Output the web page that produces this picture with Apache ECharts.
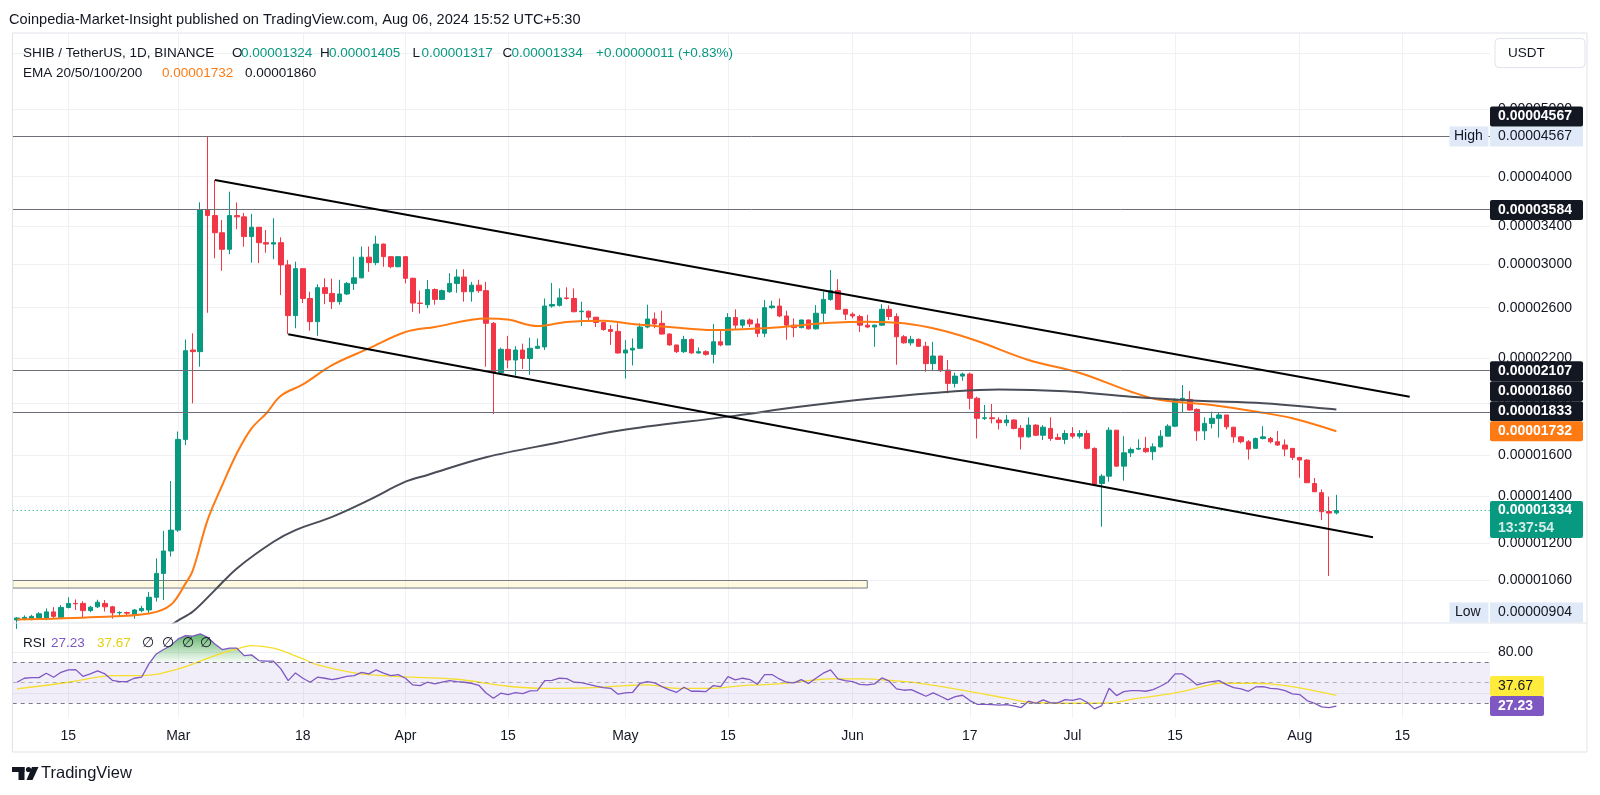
<!DOCTYPE html>
<html>
<head>
<meta charset="utf-8">
<title>SHIB / TetherUS 1D</title>
<script src="https://cdn.jsdelivr.net/npm/echarts@6.0.0/dist/echarts.min.js"></script>
<style>
  html, body { margin: 0; padding: 0; background: #fff; }
  #chart { width: 1600px; height: 795px; }
</style>
</head>
<body>
<div id="chart"></div>
<script>
// prices are in units of 0.00001 USDT
const UNIT = 1e-5;
const firstDay = '02-08';

// daily candles from Feb 8 2024: [open, high, low, close]
const ohlc = [
  [0.931,0.940,0.904,0.937],[0.933,0.945,0.930,0.939],[0.934,0.947,0.930,0.942],[0.937,0.955,0.933,0.950],
  [0.935,0.967,0.930,0.956],[0.956,0.971,0.935,0.942],[0.939,0.978,0.935,0.970],[0.970,1.003,0.967,0.983],
  [0.983,0.996,0.962,0.982],[0.983,0.990,0.940,0.960],[0.960,0.975,0.955,0.971],[0.972,0.995,0.968,0.987],
  [0.983,0.994,0.957,0.972],[0.972,0.975,0.935,0.953],[0.953,0.958,0.940,0.954],[0.954,0.957,0.945,0.952],
  [0.947,0.965,0.935,0.962],[0.960,0.975,0.955,0.967],[0.962,1.021,0.951,1.003],[1.003,1.140,0.989,1.085],
  [1.085,1.248,0.994,1.168],[1.168,1.470,1.147,1.251],
  // Mar
  [1.251,1.730,1.244,1.686],[1.686,2.342,1.655,2.257],[2.262,2.390,1.898,2.250],[2.250,3.677,2.141,3.584],
  [3.584,4.567,2.557,3.520],[3.520,3.957,3.059,3.327],[3.327,3.469,2.936,3.150],[3.150,3.808,3.100,3.520],
  [3.520,3.675,3.365,3.505],[3.505,3.550,3.177,3.285],[3.285,3.540,3.015,3.387],[3.387,3.390,3.010,3.220],
  [3.220,3.357,3.115,3.205],[3.205,3.490,3.050,3.220],[3.220,3.277,2.710,2.993],[2.993,3.042,2.383,2.533],
  [2.533,3.025,2.430,2.956],[2.956,2.960,2.640,2.680],[2.680,2.740,2.410,2.483],[2.483,2.808,2.370,2.777],
  [2.777,2.864,2.630,2.725],[2.725,2.860,2.589,2.652],[2.652,2.850,2.626,2.720],[2.720,2.830,2.710,2.816],
  [2.816,3.075,2.756,2.868],[2.868,3.180,2.864,3.070],[3.070,3.180,2.925,3.015],[3.015,3.294,2.990,3.205],
  [3.205,3.210,2.975,3.075],[3.075,3.080,2.960,2.975],[2.975,3.080,2.970,3.075],
  // Apr
  [3.075,3.080,2.816,2.864],[2.864,2.870,2.565,2.640],[2.640,2.750,2.550,2.636],[2.626,2.848,2.595,2.760],
  [2.760,2.770,2.626,2.672],[2.672,2.760,2.665,2.750],[2.740,2.912,2.730,2.816],[2.816,2.950,2.730,2.876],
  [2.876,2.950,2.652,2.740],[2.740,2.830,2.652,2.800],[2.800,2.850,2.730,2.750],[2.750,2.830,2.141,2.470],
  [2.470,2.480,1.833,2.100],[2.100,2.280,2.090,2.267],[2.267,2.370,2.130,2.189],[2.189,2.290,2.080,2.262],
  [2.262,2.310,2.125,2.200],[2.200,2.355,2.085,2.275],[2.275,2.350,2.270,2.290],[2.285,2.680,2.262,2.614],
  [2.614,2.820,2.600,2.627],[2.620,2.770,2.610,2.685],[2.685,2.780,2.670,2.680],[2.680,2.770,2.560,2.566],
  [2.566,2.652,2.448,2.570],[2.570,2.575,2.483,2.520],[2.520,2.520,2.440,2.477],[2.477,2.480,2.410,2.420],
  [2.420,2.455,2.300,2.405],[2.405,2.470,2.235,2.240],
  // May
  [2.240,2.337,2.060,2.262],[2.262,2.350,2.150,2.275],[2.275,2.470,2.270,2.440],[2.440,2.626,2.430,2.505],
  [2.505,2.560,2.430,2.465],[2.470,2.574,2.380,2.384],[2.384,2.390,2.295,2.300],[2.300,2.300,2.240,2.250],
  [2.250,2.370,2.240,2.342],[2.342,2.350,2.235,2.240],[2.240,2.282,2.235,2.250],[2.250,2.260,2.220,2.230],
  [2.230,2.464,2.165,2.324],[2.324,2.416,2.290,2.300],[2.300,2.553,2.300,2.517],[2.517,2.586,2.416,2.455],
  [2.455,2.500,2.430,2.497],[2.497,2.510,2.440,2.465],[2.465,2.510,2.360,2.390],[2.390,2.666,2.360,2.600],
  [2.600,2.660,2.590,2.614],[2.614,2.680,2.520,2.530],[2.530,2.574,2.340,2.455],[2.455,2.510,2.360,2.435],
  [2.435,2.500,2.430,2.497],[2.497,2.500,2.420,2.425],[2.425,2.622,2.420,2.553],[2.553,2.740,2.470,2.672],
  [2.672,2.943,2.660,2.750],[2.750,2.855,2.580,2.586],[2.586,2.590,2.497,2.545],
  // Jun
  [2.545,2.560,2.510,2.530],[2.525,2.540,2.400,2.455],[2.455,2.540,2.430,2.440],[2.440,2.460,2.286,2.455],
  [2.455,2.630,2.450,2.586],[2.586,2.620,2.497,2.525],[2.525,2.553,2.155,2.363],[2.363,2.376,2.310,2.316],
  [2.316,2.370,2.295,2.343],[2.343,2.350,2.285,2.290],[2.290,2.324,2.106,2.163],[2.163,2.324,2.113,2.218],
  [2.218,2.220,2.105,2.113],[2.118,2.189,1.962,2.027],[2.027,2.100,2.000,2.076],[2.076,2.100,2.044,2.090],
  [2.090,2.100,1.861,1.930],[1.930,1.940,1.691,1.807],[1.807,1.888,1.797,1.810],[1.810,1.894,1.777,1.805],
  [1.797,1.813,1.742,1.781],[1.781,1.827,1.761,1.797],[1.797,1.801,1.742,1.748],[1.748,1.767,1.631,1.700],
  [1.700,1.813,1.696,1.767],[1.767,1.772,1.704,1.709],[1.709,1.767,1.682,1.755],[1.748,1.813,1.678,1.691],
  [1.696,1.719,1.682,1.686],[1.686,1.738,1.660,1.719],
  // Jul
  [1.719,1.755,1.691,1.704],[1.704,1.738,1.691,1.719],[1.719,1.738,1.631,1.637],[1.637,1.642,1.450,1.455],
  [1.458,1.504,1.265,1.494],[1.494,1.755,1.467,1.738],[1.738,1.738,1.541,1.544],[1.544,1.704,1.472,1.613],
  [1.613,1.642,1.591,1.631],[1.633,1.686,1.628,1.637],[1.637,1.700,1.613,1.619],[1.619,1.664,1.575,1.645],
  [1.645,1.738,1.642,1.704],[1.704,1.772,1.704,1.761],[1.761,1.930,1.755,1.923],[1.923,2.016,1.840,1.930],
  [1.923,1.978,1.853,1.857],[1.861,1.867,1.678,1.734],[1.734,1.813,1.682,1.777],[1.777,1.847,1.748,1.807],
  [1.807,1.840,1.696,1.827],[1.827,1.827,1.742,1.757],[1.755,1.757,1.667,1.700],[1.700,1.704,1.664,1.673],
  [1.673,1.682,1.578,1.633],[1.637,1.696,1.635,1.691],[1.691,1.761,1.686,1.700],[1.691,1.700,1.664,1.673],
  [1.673,1.734,1.650,1.655],[1.655,1.686,1.595,1.633],[1.637,1.637,1.575,1.589],
  // Aug
  [1.589,1.591,1.486,1.575],[1.575,1.580,1.462,1.462],[1.458,1.485,1.419,1.419],[1.415,1.430,1.293,1.329],
  [1.330,1.397,1.076,1.323],[1.324,1.405,1.317,1.334]
];

// RSI 14, one value per candle
const rsi = [
  50.5,54.4,55,55,59.3,55.4,60.2,62.5,62.8,56.3,58.6,61.5,58.6,52.4,51.1,51.1,54.4,55.4,68.4,78.1,82.4,86.3,
  92.8,96,95.4,97.6,94.4,87.9,82.4,83.7,83.7,76.5,77.2,71.6,71,71,63.5,52.1,59.6,54.4,50.5,55.4,54.4,53.1,54.4,56.3,57,60.2,58.6,62.5,59.3,57,58,
  54.4,47.9,47.2,50.5,48.9,50.5,52.1,51,50.5,49.5,47.5,40,34.9,39.8,38.5,40.4,39.4,42,42.4,52.1,52.4,54.4,54.1,50.5,50.2,48.5,46.6,45.3,44.6,38.8,
  40.1,40.7,49.5,51.1,49.8,46.3,43,40.7,45.6,41.7,41.7,41.4,47.2,46.3,56,52.8,54.4,53.1,48.5,58,58,53.7,50.5,49.8,53.1,49.2,54.4,59.3,62.5,53.7,52.1,
  51.1,48.5,47.9,48.9,54.7,51.5,44,42.7,43.3,40.1,36.8,40.1,36.8,33.3,36.5,37.8,32.6,29,29,28.7,28.1,28.7,27.4,25.8,32,30,33.3,30.3,30.3,33.6,
  32.9,34.6,31,24.5,27.7,44.6,37.5,41.4,42.4,42.4,41.7,43.3,46.6,50.5,58.6,58.6,53.7,47.9,49.8,51.1,52.1,48.2,45.3,44,41.7,45.9,46.3,44.6,44,42.4,39.1,
  38.5,32.6,30,26.4,25.8,27.23
];

// EMA 50 (orange)
const ema50Dates = ['02-08','02-19','02-26','02-29','03-02','03-03','03-05','03-07','03-09','03-11','03-13','03-15','03-18',
  '03-22','03-27','04-01','04-05','04-12','04-15','04-19','04-23','04-28','05-02','05-07','05-13','05-16','05-21','05-25',
  '05-29','06-03','06-08','06-13','06-18','06-25','07-02','07-09','07-13','07-20','07-27','07-31','08-06'];
const ema50 = [0.932,0.940,0.951,0.979,1.05,1.097,1.293,1.45,1.611,1.748,1.836,1.946,2.02,
  2.153,2.274,2.40,2.44,2.51,2.50,2.448,2.48,2.49,2.464,2.44,2.416,2.42,2.434,2.455,
  2.475,2.483,2.47,2.416,2.33,2.189,2.097,1.972,1.919,1.888,1.84,1.807,1.732];

// EMA 200 (dark grey)
const ema200Dates = ['02-08','02-26','03-01','03-03','03-06','03-09','03-14','03-17','03-22','03-27','04-01','04-04',
  '04-12','04-22','04-30','05-15','05-25','06-04','06-15','06-21','06-30','07-09','07-18','07-27','08-06'];
const ema200 = [0.86,0.88,0.93,0.957,1.027,1.103,1.204,1.251,1.307,1.381,1.467,1.50,
  1.59,1.67,1.735,1.817,1.878,1.93,1.975,1.987,1.975,1.94,1.914,1.899,1.860];

// RSI-based moving average (yellow)
const rsiMaDates = ['02-08','02-15','02-19','02-21','02-25','03-01','03-06','03-09','03-11','03-14','03-18','03-20','03-25',
  '03-29','04-02','04-08','04-15','04-20','04-26','05-01','05-04','05-08','05-13','05-17','05-22','05-26','05-29','06-02',
  '06-07','06-10','06-17','06-22','06-25','07-01','07-05','07-10','07-15','07-19','07-21','07-26','07-28','08-01','08-06'];
const rsiMa = [44,50.5,55.4,57,57,63.5,76.5,83,86.3,83.7,73.3,67.4,59.6,
  57,55.4,53.4,46.6,44.6,45,47.2,47.9,44.6,44.6,47.2,48.9,52.1,53.7,53.7,
  51.8,49.6,41.4,34.9,31,30,30,34.9,40.1,46.6,49.5,49.5,48.9,45,37.67];

// drawings
const levels = [4.567, 3.584, 2.107, 1.833];
const zoneEnd = '06-03', zoneTop = 1.06, zoneBottom = 1.034;
const upperTrendDates = ['03-06', '08-16'], upperTrend = [3.957, 1.94];
const lowerTrendDates = ['03-16', '08-11'], lowerTrend = [2.383, 1.222];

// axes
const xTickDates = ['02-15','03-01','03-18','04-01','04-15','05-01','05-15','06-01','06-17','07-01','07-15','08-01','08-15'];
const xTickLabels = ['15','Mar','18','Apr','15','May','15','Jun','17','Jul','15','Aug','15'];
const priceTicks = [6, 5, 4, 3.4, 3, 2.6, 2.2, 1.9, 1.6, 1.4, 1.2, 1.06];
const rsiTicks = [80, 40];
const countdown = '13:37:54';

// visible window
const XMIN = 38.415, XMAX = 239.96;
const PMIN = 0.9232, PMAX = 6.417;
const RMIN = 16.1, RMAX = 107.8;

const FONT = '"Liberation Sans", Arial, sans-serif';
const INK = '#131722';
const UP = '#089981', DOWN = '#f23645';
const ORANGE = '#ff7a12', GREY = '#4a4d57';
const GRID = '#eff1f5';

const dayOf = s => {
  const [m, d] = s.split('-').map(Number);
  return (Date.UTC(2024, m - 1, d) - Date.UTC(2024, 0, 1)) / 864e5 + 1;
};
const fmt = p => (p * UNIT).toFixed(8);
const ln = Math.log;
const pts = (dates, vals, f) => dates.map((d, i) => [dayOf(d), f ? f(vals[i]) : vals[i]]);

const day0 = dayOf(firstDay);
const candles = ohlc.map((r, i) => [day0 + i, ln(r[0]), ln(r[3]), ln(r[2]), ln(r[1])]);
const rsiPts = rsi.map((v, i) => [day0 + i, v]);
const xTicks = xTickDates.map(dayOf);
const last = ohlc[ohlc.length - 1];
const prev = ohlc[ohlc.length - 2];

const chart = echarts.init(document.getElementById('chart'));

const xAxisBase = (gridIndex, showLabel) => ({
  type: 'value', gridIndex, min: XMIN, max: XMAX,
  axisLine: { show: false },
  axisTick: { show: false, customValues: xTicks },
  splitLine: { show: true, lineStyle: { color: GRID, width: 1 } },
  axisLabel: {
    show: showLabel, customValues: xTicks, margin: 12,
    color: INK, fontSize: 14, fontFamily: FONT,
    formatter: v => xTickLabels[xTicks.indexOf(v)]
  }
});

// green fill of the RSI above the 70 band
const obGradient = new echarts.graphic.LinearGradient(0, 0, 0, 1, [
  { offset: 0, color: 'rgba(56,160,70,0.8)' },
  { offset: 1, color: 'rgba(76,175,80,0.05)' }
]);

chart.setOption({
  animation: false,
  backgroundColor: '#fff',
  grid: [
    { left: 12.7, right: 110, top: 33, height: 589.5 },
    { left: 12.7, right: 110, top: 623.5, height: 94 }
  ],
  xAxis: [xAxisBase(0, false), xAxisBase(1, true)],
  yAxis: [
    {
      type: 'value', gridIndex: 0, position: 'right', min: ln(PMIN), max: ln(PMAX),
      axisLine: { show: false },
      axisTick: { show: false, customValues: priceTicks.map(ln) },
      splitLine: { show: true, lineStyle: { color: GRID } },
      axisLabel: {
        customValues: priceTicks.map(ln), margin: 8, color: INK, fontSize: 14, fontFamily: FONT,
        formatter: v => fmt(Math.exp(v))
      }
    },
    {
      type: 'value', gridIndex: 1, position: 'right', min: RMIN, max: RMAX,
      axisLine: { show: false },
      axisTick: { show: false, customValues: rsiTicks },
      splitLine: { show: true, lineStyle: { color: GRID } },
      axisLabel: {
        customValues: rsiTicks, margin: 8, color: INK, fontSize: 14, fontFamily: FONT,
        formatter: v => v.toFixed(2)
      }
    }
  ],
  series: [
    {
      name: 'drawings', type: 'line', xAxisIndex: 0, yAxisIndex: 0, data: [], silent: true, z: 1,
      markArea: {
        silent: true,
        itemStyle: { color: 'rgba(255,238,170,0.35)', borderColor: '#787b86', borderWidth: 1 },
        data: [[{ coord: [XMIN, ln(zoneTop)] }, { coord: [dayOf(zoneEnd), ln(zoneBottom)] }]]
      },
      markLine: {
        silent: true, symbol: ['none', 'none'], label: { show: false },
        lineStyle: { color: '#6e7079', width: 1, type: 'solid' },
        data: levels.map(v => ({ yAxis: ln(v) })).concat([
          { yAxis: ln(last[3]), lineStyle: { color: UP, width: 1, type: [1, 3] } }
        ])
      }
    },
    {
      name: 'SHIB/USDT', type: 'candlestick', xAxisIndex: 0, yAxisIndex: 0, z: 3,
      barWidth: 5, data: candles,
      itemStyle: { color: UP, color0: DOWN, borderColor: UP, borderColor0: DOWN, borderWidth: 1 }
    },
    {
      name: 'EMA 50', type: 'line', xAxisIndex: 0, yAxisIndex: 0, z: 4, smooth: 0.35,
      symbol: 'none', data: pts(ema50Dates, ema50, ln),
      lineStyle: { color: ORANGE, width: 2 }
    },
    {
      name: 'EMA 200', type: 'line', xAxisIndex: 0, yAxisIndex: 0, z: 4, smooth: 0.35,
      symbol: 'none', data: pts(ema200Dates, ema200, ln),
      lineStyle: { color: GREY, width: 2 }
    },
    {
      name: 'upper channel', type: 'line', xAxisIndex: 0, yAxisIndex: 0, z: 5, symbol: 'none',
      data: pts(upperTrendDates, upperTrend, ln), lineStyle: { color: '#000', width: 2 }
    },
    {
      name: 'lower channel', type: 'line', xAxisIndex: 0, yAxisIndex: 0, z: 5, symbol: 'none',
      data: pts(lowerTrendDates, lowerTrend, ln), lineStyle: { color: '#000', width: 2 }
    },
    // RSI pane
    {
      name: 'overbought fill', type: 'custom', xAxisIndex: 1, yAxisIndex: 1, z: 1, silent: true, clip: true,
      data: [[day0, 70]],
      renderItem: (params, api) => {
        const top = rsiPts.map(p => api.coord([p[0], Math.max(p[1], 70)]));
        const base = rsiPts.slice().reverse().map(p => api.coord([p[0], 70]));
        return { type: 'polygon', shape: { points: top.concat(base) }, style: { fill: obGradient } };
      }
    },
    {
      name: 'RSI', type: 'line', xAxisIndex: 1, yAxisIndex: 1, symbol: 'none', z: 3,
      data: rsiPts, lineStyle: { color: '#7e57c2', width: 1.3 },
      markArea: {
        silent: true, itemStyle: { color: 'rgba(126,87,194,0.1)' },
        data: [[{ yAxis: 30 }, { yAxis: 70 }]]
      },
      markLine: {
        silent: true, symbol: ['none', 'none'], label: { show: false },
        data: [
          { yAxis: 70, lineStyle: { color: '#787b86', type: [4, 4], width: 1 } },
          { yAxis: 50, lineStyle: { color: 'rgba(120,123,134,0.55)', type: [4, 4], width: 1 } },
          { yAxis: 30, lineStyle: { color: '#787b86', type: [4, 4], width: 1 } }
        ]
      }
    },
    {
      name: 'RSI MA', type: 'line', xAxisIndex: 1, yAxisIndex: 1, symbol: 'none', z: 2, smooth: 0.4,
      data: pts(rsiMaDates, rsiMa), lineStyle: { color: '#f5de2c', width: 1.3 }
    }
  ]
});

// ---- overlay: legends, price tags, frame
const g = [];
const text = (x, y, s, fill, size, extra) => g.push({
  type: 'text', x, y, z: 102, silent: true,
  style: Object.assign({ text: s, fill, fontSize: size || 14, fontFamily: FONT, verticalAlign: 'middle' }, extra || {})
});
const rect = (x, y, w, h, fill, stroke, r) => g.push({
  type: 'rect', z: 101, silent: true, shape: { x, y, width: w, height: h, r: r || 0 },
  style: { fill, stroke: stroke || null, lineWidth: 1 }
});
const line = (x1, y1, x2, y2, stroke) => g.push({
  type: 'line', z: 100, silent: true, shape: { x1, y1, x2, y2 }, style: { stroke, lineWidth: 1 }
});

const yP = p => chart.convertToPixel({ yAxisIndex: 0 }, ln(p));
const yR = v => chart.convertToPixel({ yAxisIndex: 1 }, v);
const AX = 1490, AW = 93, TAG_H = 20;

// frame
line(12.5, 33, 1587, 33, '#e0e3eb');
line(12.5, 33, 12.5, 752, '#e0e3eb');
line(1587, 33, 1587, 752, '#e0e3eb');
line(12.5, 752, 1587, 752, '#e0e3eb');
line(12.5, 623, 1587, 623, '#e0e3eb');

// header
text(9, 20, 'Coinpedia-Market-Insight published on TradingView.com, Aug 06, 2024 15:52 UTC+5:30', INK, 14.6);
const chg = last[3] - prev[3];
text(23, 53, 'SHIB / TetherUS, 1D, BINANCE', INK, 13.5);
const ohlcLegend = [['O', last[0], 232], ['H', last[1], 320], ['L', last[2], 412.5], ['C', last[3], 502.5]];
ohlcLegend.forEach(([k, v, x]) => {
  text(x, 53, k, INK, 13.5);
  text(x + 9, 53, fmt(v), UP, 13.5);
});
text(596, 53, '+' + fmt(chg) + ' (+' + (chg / prev[3] * 100).toFixed(2) + '%)', UP, 13.5);
text(23, 73.5, 'EMA 20/50/100/200', INK, 13.5);
text(162, 73.5, fmt(ema50[ema50.length - 1]), ORANGE, 13.5);
text(245, 73.5, fmt(ema200[ema200.length - 1]), INK, 13.5);

// RSI legend
text(23, 643, 'RSI', INK, 13.5);
text(51, 643, rsi[rsi.length - 1].toFixed(2), '#7e57c2', 13.5);
text(97, 643, rsiMa[rsiMa.length - 1].toFixed(2), '#e8cf10', 13.5);
[141.5, 162, 181.5, 200].forEach(x => text(x, 643, '\u2205', INK, 13.5));

// currency box
rect(1495, 38.5, 90, 29, '#fff', '#e0e3eb', 4);
text(1508, 53, 'USDT', INK, 13.5);

// price tags, stacked upward when they collide
const hi = Math.max(...ohlc.map(r => r[1]));
const lo = Math.min(...ohlc.map(r => r[2]));
const tags = [{ p: hi, kind: 'high' }]
  .concat(levels.map(p => ({ p, kind: 'dark' })))
  .concat([{ p: ema200[ema200.length - 1], kind: 'dark' }, { p: ema50[ema50.length - 1], kind: 'orange' }]);
tags.forEach(t => { t.y = yP(t.p); });
let prevY = Infinity;
tags.slice().sort((a, b) => b.y - a.y).forEach(t => { t.cy = Math.min(t.y, prevY - TAG_H); prevY = t.cy; });
tags.forEach(t => {
  if (t.kind === 'high') {
    rect(1449.5, t.cy - 10, 39, TAG_H, '#dfe9f7');
    rect(AX, t.cy - 10, AW, TAG_H, '#dfe9f7');
    text(1454, t.cy, 'High', INK, 14);
    text(AX + 8, t.cy, fmt(t.p), INK, 14);
  } else {
    rect(AX, t.cy - 10, AW, TAG_H, t.kind === 'orange' ? ORANGE : INK, null, 2);
    text(AX + 8, t.cy, fmt(t.p), '#fff', 14, { fontWeight: 'bold' });
  }
});

// last price with countdown
const yc = yP(last[3]);
rect(AX, yc - 9.5, AW, 37, UP, null, 2);
text(AX + 8, yc, fmt(last[3]), '#fff', 14, { fontWeight: 'bold' });
text(AX + 8, yc + 17.5, countdown, 'rgba(255,255,255,0.82)', 14, { fontWeight: 'bold' });

// visible low
const yLow = Math.min(yP(lo), yP(PMIN) - 10);
rect(1449.5, yLow - 10, 39, TAG_H, '#dfe9f7');
rect(AX, yLow - 10, AW, TAG_H, '#dfe9f7');
text(1455, yLow, 'Low', INK, 14);
text(AX + 8, yLow, fmt(lo), INK, 14);

// RSI tags
const yRsi = yR(rsi[rsi.length - 1]);
const yMa = Math.min(yR(rsiMa[rsiMa.length - 1]), yRsi - TAG_H);
rect(AX, yMa - 10, 54, TAG_H, '#ffeb3b', null, 2);
text(AX + 8, yMa, rsiMa[rsiMa.length - 1].toFixed(2), INK, 14);
rect(AX, yRsi - 10, 54, TAG_H, '#7e57c2', null, 2);
text(AX + 8, yRsi, rsi[rsi.length - 1].toFixed(2), '#fff', 14, { fontWeight: 'bold' });

// TradingView mark
g.push({ type: 'rect', z: 101, silent: true, shape: { x: 12, y: 767, width: 12.5, height: 5 }, style: { fill: INK } });
g.push({ type: 'rect', z: 101, silent: true, shape: { x: 18.5, y: 767, width: 6, height: 13 }, style: { fill: INK } });
g.push({ type: 'circle', z: 101, silent: true, shape: { cx: 28.5, cy: 769.5, r: 2.6 }, style: { fill: INK } });
g.push({ type: 'polygon', z: 101, silent: true, shape: { points: [[32, 767], [38.5, 767], [32.5, 780], [26.5, 780]] }, style: { fill: INK } });
text(41, 773.5, 'TradingView', INK, 16.5);

chart.setOption({ graphic: g });
</script>
</body>
</html>
